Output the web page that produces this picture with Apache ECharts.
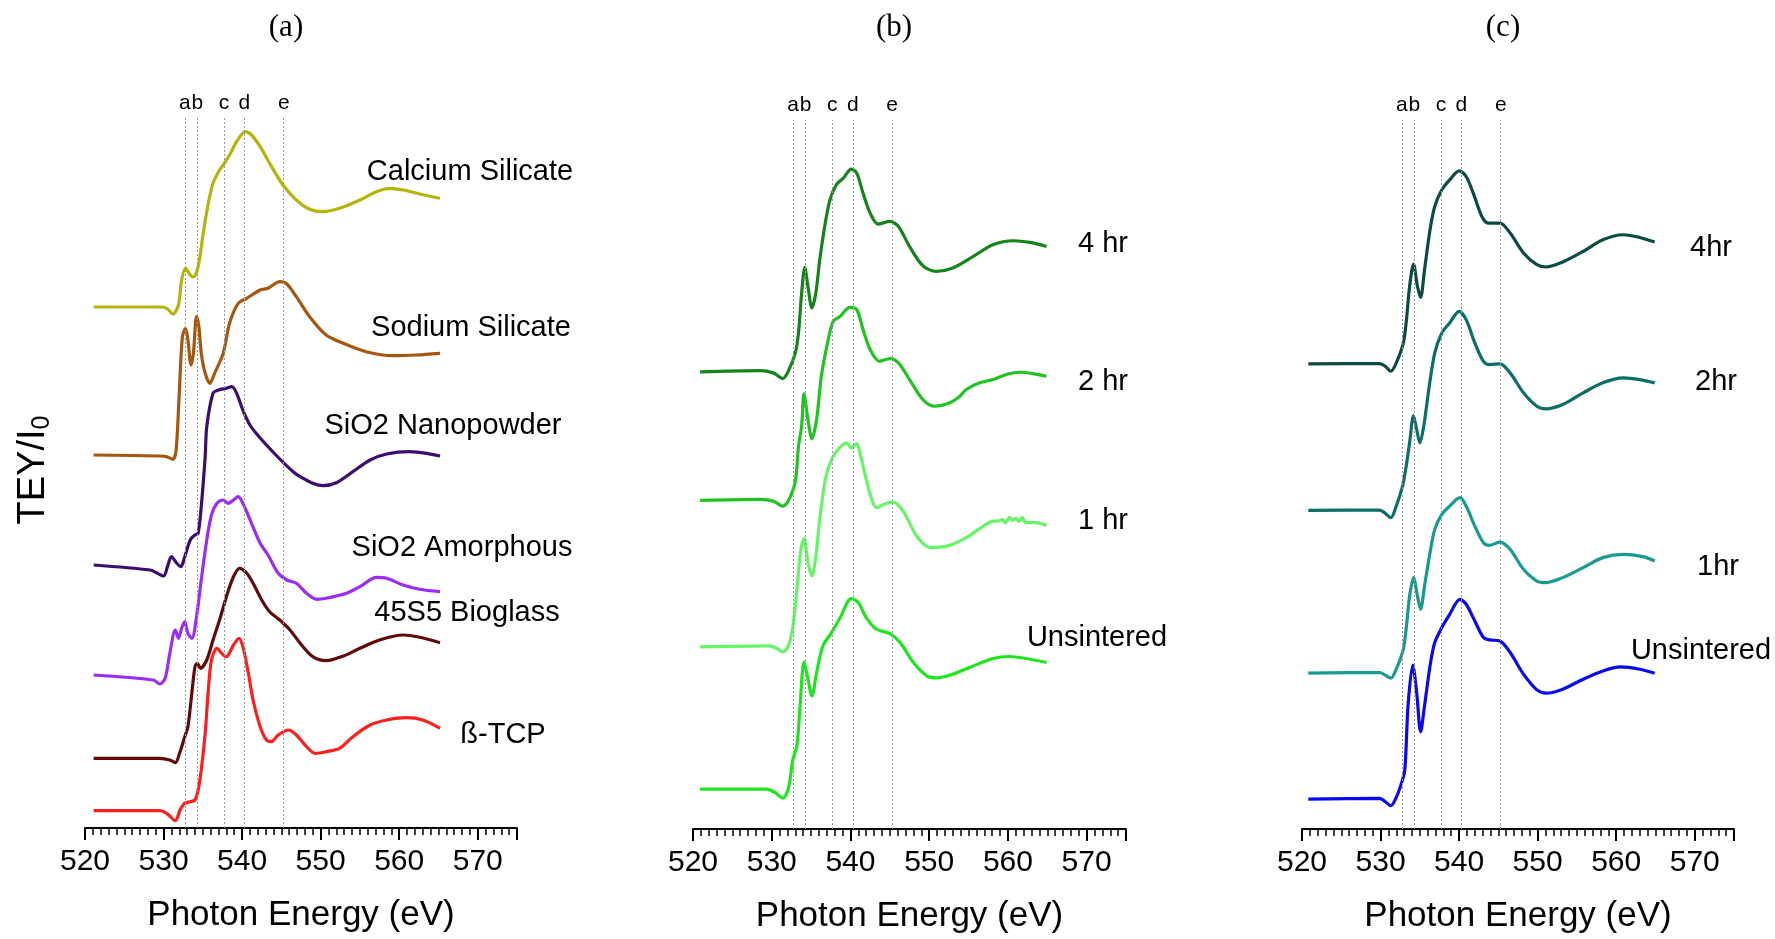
<!DOCTYPE html>
<html>
<head>
<meta charset="utf-8">
<script src="https://cdn.jsdelivr.net/npm/echarts@6/dist/echarts.min.js"></script>
<style>
  html, body { margin: 0; padding: 0; background: #fff; }
  #chart { width: 1775px; height: 939px; }
</style>
</head>
<body>
<div id="chart"></div>
<script>
// edge positions (eV) marked by dotted lines
const edgeE = [532.7, 534.3, 537.7, 540.3, 545.3]
const edgeNames = ['a', 'b', 'c', 'd', 'e']
const xTicks = [520, 530, 540, 550, 560, 570]

// panel (a) - [eV, offset intensity]
const calciumSilicate = [[521.1,521],[529.5,521],[530.4,519.7],[531.2,514],[531.9,523],[532.3,548],[532.8,559.7],[533.4,553],[533.8,551],[534.4,561],[535.05,594.7],[535.7,624.7],[536.3,644.7],[537.0,656.3],[537.6,663],[538.4,673],[539.3,686.3],[540.4,696.3],[541.2,693],[542.3,681.3],[543.5,664.7],[545.2,643],[546.9,628],[548.6,618.7],[550.3,616.3],[552.4,619.7],[555.0,628],[557.1,636.3],[558.8,639.7],[560.5,638],[562.6,634],[565.2,629.7]]
const sodiumSilicate = [[521.1,373],[529.5,372],[530.4,371.3],[531.2,368.7],[531.6,378],[532.0,434.7],[532.4,491.3],[532.8,499.7],[533.1,488],[533.5,463],[533.8,474.7],[534.2,511.3],[534.5,501.3],[534.8,474.7],[535.3,454.7],[535.9,444.7],[536.5,454.7],[537.6,474.7],[538.4,504.7],[539.5,524.7],[540.6,529.7],[542.3,538],[543.3,539.7],[544.8,546.3],[545.7,544],[546.9,531.3],[548.6,511.3],[550.7,493],[552.9,484.7],[555.8,476.3],[559.2,472.3],[562.2,473],[565.2,474.7]]
const sio2Nano = [[521.1,263],[528.3,258],[529.1,255.3],[530.0,252],[530.5,261.3],[531.0,271.3],[531.7,264.7],[532.2,261.3],[532.7,271.3],[533.4,288],[534.0,293],[534.4,294.7],[534.8,321.3],[535.3,371.3],[535.5,401.3],[536.3,434.7],[537.0,438],[538.0,439.7],[538.7,441.3],[539.3,434.7],[540.1,418],[541.0,403],[542.3,390],[544.8,369],[546.5,356.3],[547.4,351.3],[549.0,344.7],[550.3,342.3],[552.0,345.3],[554.1,356.3],[556.3,368],[558.4,374],[561.3,376.3],[563.5,374.7],[565.2,372]]
const sio2Amorph = [[521.1,153],[528.7,148],[529.5,144],[530.2,149.7],[530.8,174.7],[531.5,198],[531.9,189.7],[532.3,199.7],[532.7,206.3],[533.1,194.7],[533.6,189.7],[534.2,211.3],[534.8,248],[535.5,288],[536.1,313],[536.8,324.7],[537.6,328],[538.2,324.7],[538.9,328],[539.5,331.3],[540.1,324.7],[541.2,304.7],[542.3,284.7],[543.3,273],[544.6,254.7],[545.7,248],[546.9,244.7],[548.2,234.7],[549.5,228.7],[550.7,229.7],[553.3,234.7],[555.0,241.3],[557.1,250.7],[558.4,249.7],[560.5,243],[562.6,238.7],[565.2,236.3]]
const bioglass45S5 = [[521.1,69.7],[529.5,69.7],[530.8,68],[531.5,65.3],[532.1,76.3],[532.7,91.3],[533.1,101.3],[533.6,134.7],[534.0,161.3],[534.3,164.7],[534.7,159.7],[535.5,168],[536.3,188],[537.2,209.7],[538.0,231.3],[538.9,251.3],[539.7,259.7],[540.6,254.7],[541.4,244.7],[542.5,228],[543.5,216.3],[544.8,208],[546.1,198],[547.4,184.7],[549.0,171.3],[550.7,167.3],[552.9,172],[555.0,179.7],[557.5,188],[560.5,193],[562.6,190.7],[565.2,185.3]]
const betaTCP = [[521.1,17.3],[529.5,17.3],[530.4,14.7],[531.5,7.3],[532.1,18],[532.7,24.7],[533.4,26.3],[534.0,28],[534.4,38],[534.8,58],[535.3,94.7],[535.7,138],[536.1,168],[536.8,179.7],[537.4,174.7],[538.0,171.3],[538.9,183],[539.6,189.7],[540.1,181.3],[540.8,154.7],[541.4,128],[542.3,101.3],[543.1,88],[543.7,86.3],[544.6,93],[545.9,98],[546.9,93],[548.2,81.3],[549.3,74.7],[550.7,76.3],[552.4,79.7],[554.1,91.3],[556.3,103],[558.4,108],[560.9,110.3],[563.0,108],[565.2,99.7]]

// panel (b)
const b4hr = [[520.9,457.7],[528.5,459],[530.2,456.7],[531.4,451],[532.1,458.3],[533.0,476.7],[533.4,496.7],[533.8,536.7],[534.2,562.3],[534.6,543.3],[535.1,521.7],[535.6,536.7],[536.1,570],[536.8,606.7],[537.4,630],[538.2,645],[539.1,651.7],[540.1,660.7],[540.8,656.7],[541.6,636.7],[542.5,616.7],[543.5,605.7],[545.0,608.3],[546.1,603.3],[547.5,583.3],[549.2,564],[550.9,558.3],[553.0,561.7],[555.6,573.3],[558.1,585],[560.7,589],[562.8,587.3],[564.9,583.3]]
const b2hr = [[520.9,329],[528.5,330],[530.2,328.3],[531.4,323.3],[532.1,328.3],[533.0,348.3],[533.4,383.3],[533.8,403.3],[534.1,435.7],[534.6,410],[535.1,390.7],[535.7,410],[536.3,453.3],[537.0,483.3],[537.8,508.3],[538.7,513.3],[539.9,522.3],[540.8,520],[541.6,500],[542.5,480],[543.7,468.3],[545.0,471],[546.1,466.7],[547.5,450],[549.2,430],[550.7,423.3],[552.6,426.7],[553.9,433.3],[554.7,440],[556.4,446.7],[558.1,450],[559.8,455],[561.5,457.3],[563.2,456],[564.9,453.3]]
const b1hr = [[520.9,182.3],[529.8,183.3],[530.6,181],[531.4,177.3],[532.1,183.3],[532.7,203.3],[533.2,240],[533.7,280],[534.1,290.7],[534.6,266.7],[535.1,253.3],[535.6,273.3],[536.1,310],[536.8,350],[537.6,370],[538.4,380],[539.5,386.7],[540.1,381.7],[540.8,386],[541.2,376.7],[542.0,350],[542.7,330],[543.3,321.7],[544.2,325],[545.4,327.3],[546.7,318.3],[548.4,293.3],[550.1,281.7],[552.6,284],[554.7,291.7],[556.4,300.7],[558.1,308.3],[558.8,308.5],[559.3,310],[559.7,306.5],[560.2,312],[560.6,309],[561.0,311],[561.4,308],[561.8,312],[562.2,307],[563.6,306.7],[564.9,304]]
const bUnsint = [[520.9,40],[529.3,40],[530.4,36.7],[531.4,31],[532.1,40],[532.7,70],[533.2,83.3],[533.6,123.3],[534.1,167.3],[534.6,150],[535.1,133.3],[535.7,156.7],[536.5,183.3],[537.6,196.7],[538.7,211.7],[540.1,230.7],[541.0,226.7],[542.0,211.7],[543.3,200],[545.0,195.7],[546.3,186.7],[548.0,166.7],[549.7,153.3],[550.9,151.3],[553.0,155],[555.6,163.3],[558.1,170.7],[560.2,172.7],[562.3,170.7],[564.9,166.7]]

// panel (c)
const c4hr = [[520.8,465.7],[529.9,466],[530.6,463.3],[531.3,458.3],[532.0,466.7],[532.9,486.7],[533.3,510],[533.7,543.3],[534.2,565.7],[534.7,543.3],[535.1,532.3],[535.6,560],[536.3,600],[536.9,623.3],[537.8,640],[538.8,650],[540.0,659],[540.9,653.3],[541.8,636.7],[542.9,613.3],[543.7,606.7],[545.2,606.7],[546.5,596.7],[548.2,576.7],[549.9,565],[551.1,562.7],[553.2,567.7],[555.8,578.3],[558.3,590],[560.9,595],[563.0,592.3],[564.9,587.7]]
const c2hr = [[520.8,319],[529.9,319.3],[530.6,316],[531.3,311.7],[532.0,323.3],[532.8,343.3],[533.2,360],[533.7,386.7],[534.2,414],[534.6,400],[535.0,386.7],[535.5,403.3],[536.2,443.3],[536.9,476.7],[537.8,496.7],[538.8,506.7],[540.0,518.3],[540.9,510],[542.0,486.7],[543.1,468.3],[543.9,465],[545.2,465.7],[546.5,456.7],[548.2,436.7],[549.9,423.3],[551.1,420.7],[553.2,425],[555.8,436.7],[558.3,446.7],[560.9,451.7],[563.0,450],[564.9,446.7]]
const c1hr = [[520.8,156],[529.9,156.7],[530.6,154],[531.3,151],[532.0,160],[532.9,180],[533.3,203.3],[533.7,233.3],[534.2,251.7],[534.7,233.3],[535.1,220],[535.6,243.3],[536.3,276.7],[536.9,300],[537.8,315],[538.8,323.3],[540.1,331.7],[540.9,323.3],[542.0,303.3],[543.1,286.7],[543.9,284],[545.2,287.3],[546.5,280],[548.2,260],[549.9,248.3],[551.1,246.7],[553.2,251.7],[555.8,261.7],[558.3,271.7],[560.9,275],[563.4,272.7],[564.9,268.3]]
const cUnsint = [[520.8,30],[529.9,30.7],[530.6,27.3],[531.3,23.3],[532.0,31.7],[532.7,46.7],[533.1,60],[533.5,123.3],[534.1,164],[534.6,136.7],[535.1,97.3],[535.6,123.3],[536.3,163.3],[536.9,186.7],[537.8,201.7],[538.8,215],[540.1,230],[540.9,225],[542.0,208.3],[543.1,191.7],[543.9,189.3],[545.2,188.3],[546.5,176.7],[548.2,155],[549.9,139.3],[551.1,136],[553.2,140],[555.8,150],[558.3,158.3],[560.5,162.3],[563.0,160],[564.9,156]]

const chart = echarts.init(document.getElementById('chart'))

function line (name, data, color, idx) {
  return {
    name: name,
    type: 'line',
    xAxisIndex: idx,
    yAxisIndex: idx,
    data: data,
    smooth: 0.3,
    symbol: 'none',
    lineStyle: { color: color, width: 3.2 },
    z: 3
  }
}

function edgeLines (idx) {
  return {
    type: 'line',
    xAxisIndex: idx,
    yAxisIndex: idx,
    data: [],
    silent: true,
    markLine: {
      symbol: 'none',
      silent: true,
      animation: false,
      lineStyle: { color: '#9a9a9a', type: [2, 2], width: 1 },
      label: {
        show: true,
        position: 'end',
        distance: 4,
        formatter: p => p.name,
        color: '#000',
        fontSize: 21,
        fontFamily: 'Liberation Sans'
      },
      data: edgeE.map((e, i) => [
        { name: edgeNames[i], coord: [e, 0] },
        { coord: [e, 710] }
      ])
    }
  }
}

function xAxis (idx) {
  return {
    gridIndex: idx,
    type: 'value',
    min: 520,
    max: 575,
    interval: 10,
    name: 'Photon Energy (eV)',
    nameLocation: 'middle',
    nameGap: 70,
    nameTextStyle: { color: '#000', fontSize: 35, fontFamily: 'Liberation Sans' },
    axisLine: { show: true, onZero: false, lineStyle: { color: '#000', width: 2 } },
    axisTick: { show: true, inside: false, length: 12, lineStyle: { color: '#000', width: 2 } },
    minorTick: { show: true, splitNumber: 10, length: 7, lineStyle: { color: '#000', width: 1.5 } },
    axisLabel: {
      color: '#000', fontSize: 30, margin: 19, fontFamily: 'Liberation Sans',
      formatter: v => (xTicks.indexOf(v) >= 0 ? String(v) : '')
    },
    splitLine: { show: false }
  }
}

function yAxis (idx) {
  return {
    gridIndex: idx, type: 'value', min: 0, max: 800,
    show: false, splitLine: { show: false }
  }
}

function txt (x, y, s, size, family) {
  return {
    type: 'text', x: x, y: y,
    style: {
      text: s, fill: '#000', fontSize: size || 29,
      fontFamily: family || 'Liberation Sans', align: 'center', verticalAlign: 'middle'
    }
  }
}

const option = {
  backgroundColor: '#fff',
  animation: false,
  grid: [
    { left: 85, width: 432, bottom: 111, height: 800 },
    { left: 693, width: 433, bottom: 109, height: 800 },
    { left: 1302, width: 432, bottom: 109, height: 800 }
  ],
  xAxis: [xAxis(0), xAxis(1), xAxis(2)],
  yAxis: [yAxis(0), yAxis(1), yAxis(2)],
  series: [
    edgeLines(0), edgeLines(1), edgeLines(2),
    line('Calcium Silicate', calciumSilicate, '#b4b40c', 0),
    line('Sodium Silicate', sodiumSilicate, '#a5560f', 0),
    line('SiO2 Nanopowder', sio2Nano, '#3c0c6e', 0),
    line('SiO2 Amorphous', sio2Amorph, '#9a2cf5', 0),
    line('45S5 Bioglass', bioglass45S5, '#600a0a', 0),
    line('ß-TCP', betaTCP, '#ff1e1e', 0),
    line('4 hr', b4hr, '#15841a', 1),
    line('2 hr', b2hr, '#20c420', 1),
    line('1 hr', b1hr, '#66f566', 1),
    line('Unsintered', bUnsint, '#1ee61e', 1),
    line('4hr', c4hr, '#0c4a45', 2),
    line('2hr', c2hr, '#0b6e68', 2),
    line('1hr', c1hr, '#179a90', 2),
    line('Unsintered ', cUnsint, '#0a0af0', 2)
  ],
  graphic: [
    txt(286, 28, '(a)', 31, 'Liberation Serif'),
    txt(894, 28, '(b)', 31, 'Liberation Serif'),
    txt(1503, 28, '(c)', 31, 'Liberation Serif'),
    {
      type: 'text', x: 34, y: 470, rotation: Math.PI / 2,
      style: {
        text: 'TEY/I{s|0}', fill: '#000', fontSize: 38, fontFamily: 'Liberation Sans',
        align: 'center', verticalAlign: 'middle',
        rich: { s: { fontSize: 25, fontFamily: 'Liberation Sans', verticalAlign: 'bottom', padding: [16, 0, 0, 0] } }
      }
    },
    txt(470, 172, 'Calcium Silicate'),
    txt(471, 328, 'Sodium Silicate'),
    txt(443, 426, 'SiO2 Nanopowder'),
    txt(462, 548, 'SiO2 Amorphous'),
    txt(467, 613, '45S5 Bioglass'),
    txt(503, 735, 'ß-TCP'),
    txt(1103, 244, '4 hr'),
    txt(1103, 382, '2 hr'),
    txt(1103, 521, '1 hr'),
    txt(1097, 638, 'Unsintered'),
    txt(1711, 248, '4hr'),
    txt(1716, 382, '2hr'),
    txt(1718, 567, '1hr'),
    txt(1701, 651, 'Unsintered')
  ]
}

chart.setOption(option)
</script>
</body>
</html>
